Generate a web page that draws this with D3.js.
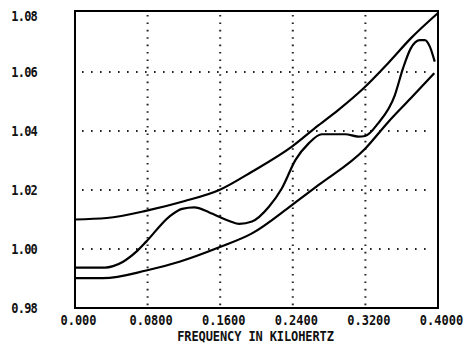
<!DOCTYPE html>
<html>
<head>
<meta charset="utf-8">
<script src="https://cdn.jsdelivr.net/npm/d3@7"></script>
<style>
  html, body { margin: 0; padding: 0; background: #fff; }
  svg { display: block; }
  text { font-family: "DejaVu Sans Mono", monospace; font-weight: bold; fill: #111; }
</style>
</head>
<body>
<script>
// ---- data ----
const xTicks = [0, 0.08, 0.16, 0.24, 0.32, 0.40];
const xTickLabels = ["0.000", "0.0800", "0.1600", "0.2400", "0.3200", "0.4000"];
const yTicks = [0.98, 1.00, 1.02, 1.04, 1.06, 1.08];
const yTickLabels = ["0.98", "1.00", "1.02", "1.04", "1.06", "1.08"];
const xTitle = "FREQUENCY IN KILOHERTZ";

const upperX = [0, 0.035, 0.079, 0.12, 0.159, 0.195, 0.239, 0.2685, 0.29, 0.318, 0.345, 0.370, 0.400];
const upperY = [1.0100, 1.0105, 1.0130, 1.0162, 1.0200, 1.0262, 1.0347, 1.0420, 1.0471, 1.0545, 1.0630, 1.0714, 1.0800];

const middleX = [0, 0.033, 0.042, 0.053, 0.0676, 0.0785, 0.104, 0.118, 0.1315, 0.148, 0.170, 0.181, 0.195, 0.2137, 0.228, 0.243, 0.2575, 0.272, 0.2977, 0.3123, 0.3197, 0.334, 0.3525, 0.3616, 0.370, 0.380, 0.3855, 0.391, 0.3964];
const middleY = [0.9937, 0.9937, 0.9942, 0.9957, 0.9991, 1.0025, 1.0110, 1.0136, 1.0141, 1.0124, 1.0095, 1.0085, 1.0093, 1.0143, 1.0206, 1.0302, 1.0358, 1.0389, 1.0389, 1.0381, 1.0383, 1.0426, 1.0522, 1.0614, 1.0680, 1.0708, 1.0708, 1.0686, 1.0635];

const lowerX = [0, 0.031, 0.0785, 0.115, 0.159, 0.195, 0.239, 0.2685, 0.3197, 0.345, 0.370, 0.396];
const lowerY = [0.9901, 0.9901, 0.9927, 0.9957, 1.0006, 1.0053, 1.0149, 1.0217, 1.0340, 1.0430, 1.0511, 1.0596];

// ---- layout ----
const W = 464, H = 349;
const mLeft = 75, mRight = 438, mTop = 13, mBottom = 308;
const stretch = 1.15; // glyphs of the plotter font are tall and narrow

const svg = d3.select("body").append("svg")
  .attr("width", W).attr("height", H)
  .style("background", "#fff");

const x = d3.scaleLinear().domain([0, 0.4]).range([mLeft, mRight]);
const y = d3.scaleLinear().domain([0.98, 1.08]).range([mBottom, mTop]);

// grid (dotted)
const gridG = svg.append("g");
gridG.selectAll("line.vg").data(xTicks.slice(1, -1)).join("line")
  .attr("x1", d => x(d)).attr("x2", d => x(d))
  .attr("y1", mTop + 2).attr("y2", mBottom - 2)
  .attr("stroke", "#222").attr("stroke-width", 2)
  .attr("stroke-dasharray", "1.6,5.8");
gridG.selectAll("line.hg").data(yTicks.slice(1, -1)).join("line")
  .attr("x1", mLeft + 7).attr("x2", mRight - 5)
  .attr("y1", d => y(d)).attr("y2", d => y(d))
  .attr("stroke", "#222").attr("stroke-width", 2)
  .attr("stroke-dasharray", "1.6,7.4");

// curves
const line = d3.line().x(d => x(d[0])).y(d => y(d[1])).curve(d3.curveMonotoneX);
const series = [
  d3.zip(upperX, upperY),
  d3.zip(middleX, middleY),
  d3.zip(lowerX, lowerY)
];
svg.append("g").selectAll("path").data(series).join("path")
  .attr("d", line)
  .attr("fill", "none")
  .attr("stroke", "#000")
  .attr("stroke-width", 2.2)
  .attr("stroke-linejoin", "round");

// frame
svg.append("rect")
  .attr("x", mLeft).attr("y", mTop - 2)
  .attr("width", mRight - mLeft).attr("height", mBottom - mTop + 2)
  .attr("fill", "none").attr("stroke", "#000").attr("stroke-width", 2);

// x axis labels
const xAxis = d3.axisBottom(x).tickValues(xTicks)
  .tickFormat((d, i) => xTickLabels[i]).tickSize(0);
const gx = svg.append("g").attr("transform", `translate(0,${mBottom})`).call(xAxis);
gx.select(".domain").remove();
gx.selectAll("text")
  .attr("x", 0).attr("y", 0).attr("dy", 0)
  .attr("transform", `translate(3,17) scale(1,${stretch})`)
  .attr("font-size", 12)
  .attr("font-family", "DejaVu Sans Mono, monospace")
  .attr("font-weight", "bold")
  .attr("fill", "#111");

// y axis labels
const yAxis = d3.axisLeft(y).tickValues(yTicks)
  .tickFormat((d, i) => yTickLabels[i]).tickSize(0);
const gy = svg.append("g").attr("transform", `translate(${mLeft},0)`).call(yAxis);
gy.select(".domain").remove();
gy.selectAll(".tick").attr("transform", d => `translate(0,${Math.max(y(d), mTop + 3)})`);
gy.selectAll("text")
  .attr("x", 0).attr("y", 0).attr("dy", 0)
  .attr("transform", `translate(-38,5) scale(1,${stretch})`)
  .attr("text-anchor", "end")
  .attr("letter-spacing", "-0.8px")
  .attr("font-size", 12)
  .attr("font-family", "DejaVu Sans Mono, monospace")
  .attr("font-weight", "bold")
  .attr("fill", "#111");

// x title
svg.append("text")
  .attr("transform", `translate(${(mLeft + mRight) / 2 - 1},341) scale(1,${stretch})`)
  .attr("text-anchor", "middle")
  .attr("font-size", 12)
  .attr("letter-spacing", "-0.1px")
  .text(xTitle);
</script>
</body>
</html>
